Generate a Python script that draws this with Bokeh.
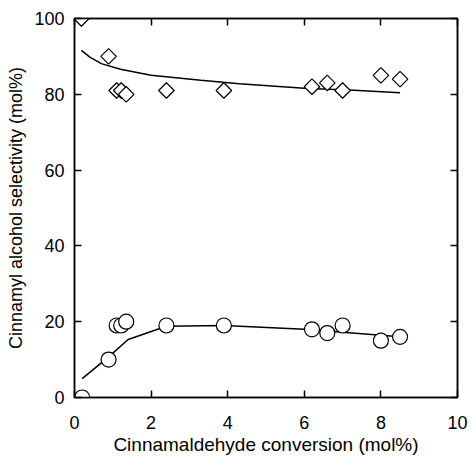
import numpy as np
from bokeh.plotting import figure
from bokeh.models import LinearAxis, FixedTicker, Range1d, CustomLabelingPolicy
from bokeh.embed import file_html
from bokeh.resources import INLINE

# Data
conv_sel = [0.18, 0.89, 1.1, 1.22, 1.35, 2.4, 3.9, 6.2, 6.6, 7.0, 8.0, 8.5]
selectivity = [100, 90, 81, 81, 80, 81, 81, 82, 83, 81, 85, 84]

conv_ald = [0.2, 0.89, 1.1, 1.22, 1.35, 2.4, 3.9, 6.2, 6.6, 7.0, 8.0, 8.5]
ald_yield = [0, 10, 19, 19, 20, 19, 19, 18, 17, 19, 15, 16]

sel_fit_x = [0.18, 0.4, 0.7, 1.2, 2.0, 3.3, 4.3, 6.0, 7.3, 8.5]
sel_fit_y = [91.6, 89.8, 88.1, 86.6, 85.0, 83.7, 82.8, 81.6, 81.1, 80.4]

ald_fit_x = [0.2, 0.9, 1.4, 2.4, 3.9, 6.0, 7.0, 8.0, 8.5]
ald_fit_y = [5.0, 10.8, 15.3, 18.8, 19.0, 18.0, 17.2, 16.4, 16.0]

x_ticks = [0, 2, 4, 6, 8, 10]
y_ticks = [0, 20, 40, 60, 80, 100]

FONT = "Liberation Sans"

p = figure(output_backend="svg", toolbar_location=None,
           frame_width=383, frame_height=379,
           min_border_left=74, min_border_right=13,
           min_border_top=18, min_border_bottom=58,
           x_range=Range1d(0, 10), y_range=Range1d(0, 100),
           x_axis_label="Cinnamaldehyde conversion (mol%)",
           y_axis_label="Cinnamyl alcohol selectivity (mol%)")

p.grid.visible = False
p.outline_line_color = "black"
p.outline_line_width = 1.5
p.background_fill_color = "white"
p.border_fill_color = "white"

hide_all = CustomLabelingPolicy(code="""
try { for (const i of Array.from(indices)) indices.unset(i) } catch (e) {}
return indices
""")


def style_axis(ax, ticks, show_labels=True):
    ax.ticker = FixedTicker(ticks=ticks)
    ax.axis_line_color = "black"
    ax.axis_line_width = 1.5
    ax.major_tick_line_color = "black"
    ax.major_tick_line_width = 1.5
    ax.major_tick_in = 7
    ax.major_tick_out = 0
    ax.minor_tick_line_color = None
    ax.major_label_text_font = FONT
    ax.major_label_text_font_size = "18px"
    ax.major_label_text_color = "black"
    ax.axis_label_text_font = FONT
    ax.axis_label_text_font_size = "18px"
    ax.axis_label_text_font_style = "normal"
    ax.axis_label_text_color = "black"
    if not show_labels:
        ax.major_label_policy = hide_all
        ax.major_label_text_font_size = "1px"
        ax.major_label_standoff = 0


style_axis(p.xaxis[0], x_ticks)
style_axis(p.yaxis[0], y_ticks)
p.xaxis[0].major_label_standoff = 18
p.xaxis[0].axis_label_standoff = 2
p.xaxis[0].axis_label_text_font_size = "19px"
p.yaxis[0].major_label_standoff = 10
p.yaxis[0].axis_label_standoff = 5

top = LinearAxis()
style_axis(top, x_ticks, show_labels=False)
p.add_layout(top, "above")
right = LinearAxis()
style_axis(right, y_ticks, show_labels=False)
p.add_layout(right, "right")

p.line(sel_fit_x, sel_fit_y, line_color="black", line_width=1.5)
p.line(ald_fit_x, ald_fit_y, line_color="black", line_width=1.5)
p.scatter(conv_sel, selectivity, marker="square", angle=np.pi / 4, size=11,
          fill_color="white", line_color="black", line_width=1.2)
p.scatter(conv_ald, ald_yield, marker="circle", size=15,
          fill_color="white", line_color="black", line_width=1.2)

open("out.html", "w").write(file_html(p, INLINE))
